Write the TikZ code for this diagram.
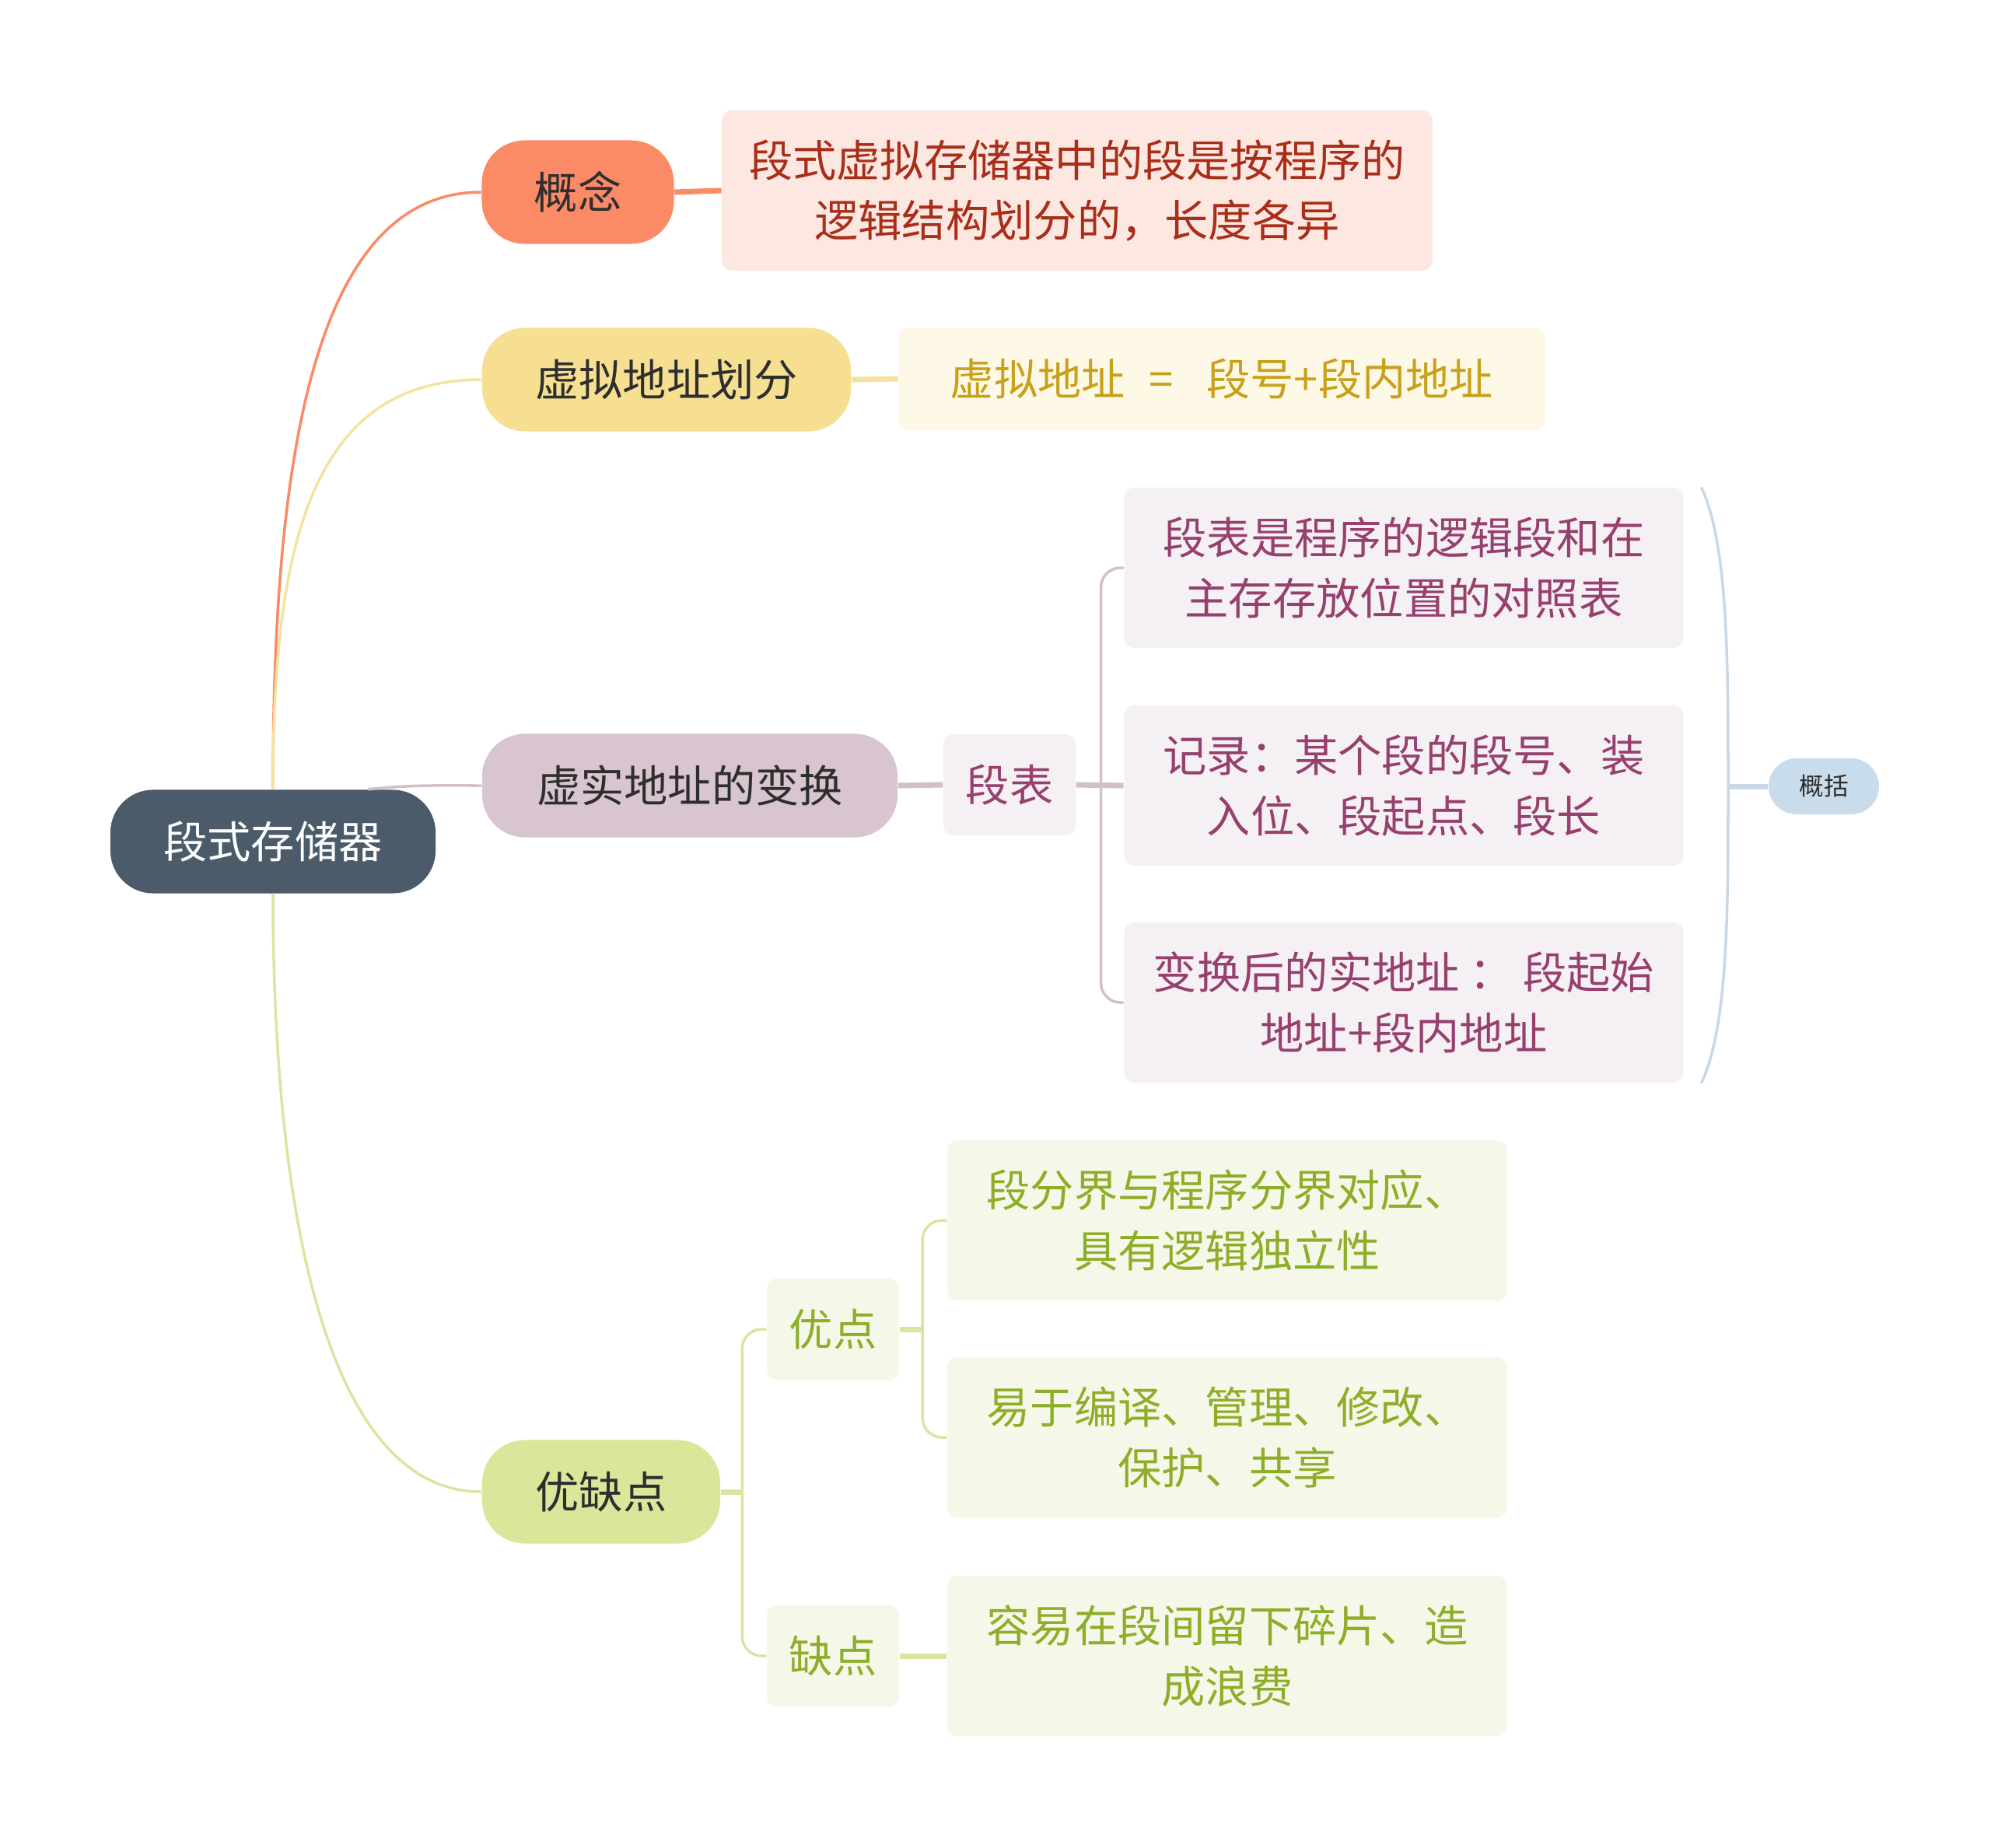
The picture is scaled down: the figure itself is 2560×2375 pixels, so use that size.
\documentclass[tikz,border=0pt]{standalone}
\usepackage{fontspec}
\newfontfamily\cjk{Noto Sans CJK SC}
\usetikzlibrary{calc}
\definecolor{RootSlate}{HTML}{4B5B6A}
\definecolor{TopicInk}{HTML}{2E2E2E}
\definecolor{ConceptSalmon}{HTML}{FB8A66}
\definecolor{ConceptPale}{HTML}{FDE7E1}
\definecolor{ConceptInk}{HTML}{A82E1A}
\definecolor{SplitYellow}{HTML}{F6DF90}
\definecolor{SplitPale}{HTML}{FEF9E7}
\definecolor{SplitInk}{HTML}{C9A01A}
\definecolor{SplitLine}{HTML}{F4E3A0}
\definecolor{MapMauve}{HTML}{D8C5CF}
\definecolor{MapPale}{HTML}{F5F0F3}
\definecolor{MapInk}{HTML}{973F6F}
\definecolor{MapLine}{HTML}{D2C0C9}
\definecolor{SumBlue}{HTML}{C9DCEC}
\definecolor{SumLine}{HTML}{C8D8E6}
\definecolor{ProsGreen}{HTML}{D9E79B}
\definecolor{ProsPale}{HTML}{F5F8E9}
\definecolor{ProsInk}{HTML}{8DAE28}
\definecolor{ProsLine}{HTML}{D8E6A2}

\begin{document}
\begin{tikzpicture}[x=.01cm,y=-.01cm,
  topic/.style={rounded corners=.55cm,minimum height=1.33cm,inner sep=0pt,
    text=TopicInk,font=\cjk\fontsize{16}{22}\selectfont},
  leaf/.style={rounded corners=.13cm,inner sep=0pt,align=center,
    font=\cjk\fontsize{16}{22}\selectfont},
  twig/.style={line width=1pt},
  stub/.style={line width=2pt}]
  \useasboundingbox (0,0) rectangle (2560,2375);
  % centre and main branches
  \node[topic,fill=RootSlate,text=white,minimum width=4.18cm] (root) at (351,1082) {段式存储器};
  \node[topic,fill=ConceptSalmon,minimum width=2.47cm] (gn) at (743,247) {概念};
  \node[topic,fill=SplitYellow,minimum width=4.74cm] (xn) at (857,488) {虚拟地址划分};
  \node[topic,fill=MapMauve,minimum width=5.34cm] (sn) at (887,1010) {虚实地址的变换};
  \node[topic,fill=ProsGreen,minimum width=3.06cm] (yq) at (773,1918) {优缺点};
  \draw[twig,ConceptSalmon] (root.north) .. controls (351,600) and (400,247) .. (gn.west);
  \draw[twig,SplitLine] (root.north) .. controls (351,700) and (400,488) .. (xn.west);
  \draw[twig,MapLine] ([xshift=1.22cm]root.north) .. controls +(60,-6) and +(-60,0) .. (sn.west);
  \draw[twig,ProsLine] (root.south) .. controls (351,1560) and (420,1918) .. (yq.west);
  % leaves
  \node[leaf,fill=ConceptPale,text=ConceptInk,minimum width=9.13cm,minimum height=2.06cm] (gnd) at (1385,245)
    {段式虚拟存储器中的段是按程序的\\逻辑结构划分的，长度各异};
  \node[leaf,fill=SplitPale,text=SplitInk,minimum width=8.31cm,minimum height=1.32cm] (xnd) at (1571,487)
    {虚拟地址\hspace{.55em}=\hspace{.75em}段号+段内地址};
  \draw[stub,ConceptSalmon] (gn.east) -- (gnd.west);
  \draw[stub,SplitLine] (xn.east) -- (xnd.west);
  \node[leaf,fill=MapPale,text=MapInk,minimum width=1.7cm,minimum height=1.3cm] (dt) at (1298,1009) {段表};
  \node[leaf,fill=MapPale,text=MapInk,minimum width=7.19cm,minimum height=2.06cm] (b1) at (1805,730)
    {段表是程序的逻辑段和在\\主存存放位置的对照表};
  \node[leaf,fill=MapPale,text=MapInk,minimum width=7.19cm,minimum height=2.06cm] (b2) at (1805,1010)
    {记录：某个段的段号、装\\入位、段起点、段长};
  \node[leaf,fill=MapPale,text=MapInk,minimum width=7.19cm,minimum height=2.06cm] (b3) at (1805,1289)
    {变换后的实地址 ： 段起始\\地址+段内地址};
  \draw[stub,MapLine] (sn.east) -- (dt.west);
  \draw[stub,MapLine] (dt.east) -- (b2.west);
  \draw[twig,MapLine,rounded corners=.25cm] (b1.west) -- ++(-29,0) |- (b3.west);
  % summary
  \node[leaf,fill=SumBlue,text=TopicInk,rounded corners=.36cm,minimum width=1.42cm,minimum height=.72cm,
    font=\cjk\fontsize{9}{11}\selectfont] (gk) at (2345,1011) {概括};
  \coordinate (st) at ([xshift=.22cm]b1.north east);
  \coordinate (sb) at ([xshift=.22cm]b3.south east);
  \coordinate (sm) at (2222,1011);
  \draw[twig,SumLine] (st) .. controls (2222,700) and (2222,850) .. (sm) .. controls (2222,1170) and (2222,1320) .. (sb);
  \draw[stub,SumLine] (sm) -- (gk.west);
  % pros and cons
  \node[leaf,fill=ProsPale,text=ProsInk,minimum width=1.7cm,minimum height=1.31cm] (yd) at (1071,1709) {优点};
  \node[leaf,fill=ProsPale,text=ProsInk,minimum width=1.7cm,minimum height=1.31cm] (qd) at (1071,2129) {缺点};
  \node[leaf,fill=ProsPale,text=ProsInk,minimum width=7.2cm,minimum height=2.06cm] (p1) at (1578,1569)
    {段分界与程序分界对应、\\具有逻辑独立性};
  \node[leaf,fill=ProsPale,text=ProsInk,minimum width=7.2cm,minimum height=2.06cm] (p2) at (1578,1848)
    {易于编译、管理、修改、\\保护、共享};
  \node[leaf,fill=ProsPale,text=ProsInk,minimum width=7.2cm,minimum height=2.06cm] (c1) at (1578,2129)
    {容易在段间留下碎片、造\\成浪费};
  \draw[stub,ProsLine] (yq.east) -- ++(29,0);
  \draw[twig,ProsLine,rounded corners=.25cm] (yd.west) -- ++(-31,0) |- (qd.west);
  \draw[stub,ProsLine] (yd.east) -- ++(31,0);
  \draw[twig,ProsLine,rounded corners=.25cm] (p1.west) -- ++(-31,0) |- (p2.west);
  \draw[stub,ProsLine] (qd.east) -- (c1.west);
\end{tikzpicture}
\end{document}
